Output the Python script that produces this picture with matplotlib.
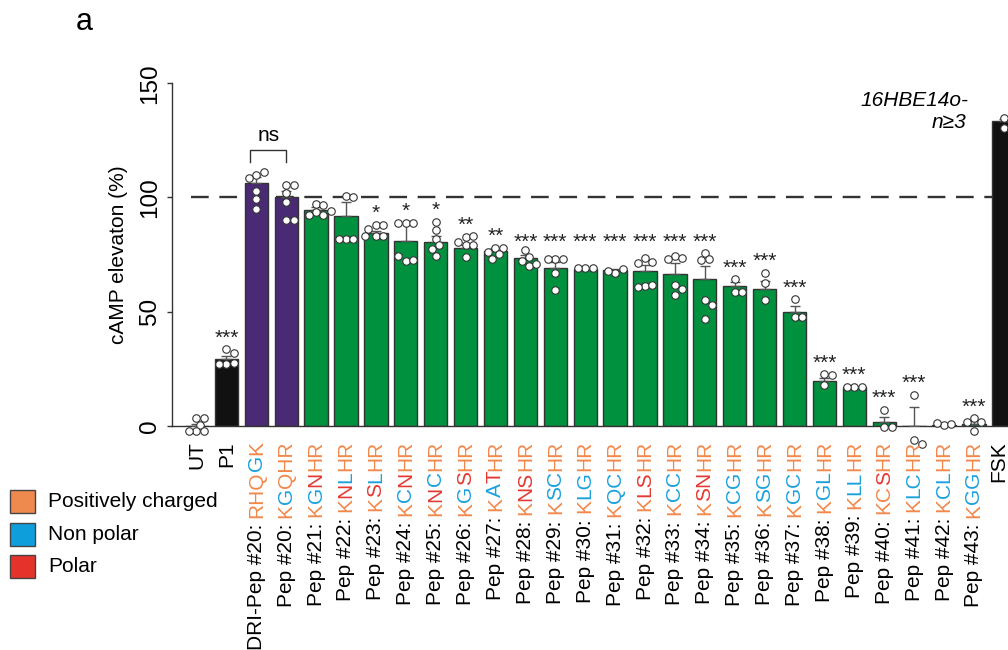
import numpy as np
import matplotlib
matplotlib.use("Agg")
import matplotlib.pyplot as plt
from matplotlib.patches import Rectangle
from matplotlib.font_manager import FontProperties

plt.rcParams['font.family'] = ['Liberation Sans', 'DejaVu Sans']

# ---------------- data ----------------
names = ["UT", "P1", "DRI-Pep #20", "Pep #20", "Pep #21", "Pep #22", "Pep #23",
         "Pep #24", "Pep #25", "Pep #26", "Pep #27", "Pep #28", "Pep #29",
         "Pep #30", "Pep #31", "Pep #32", "Pep #33", "Pep #34", "Pep #35",
         "Pep #36", "Pep #37", "Pep #38", "Pep #39", "Pep #40", "Pep #41",
         "Pep #42", "Pep #43", "FSK"]

sequences = ["", "", "RHQGK", "KGQHR", "KGNHR", "KNLHR", "KSLHR", "KCNHR",
             "KNCHR", "KGSHR", "KATHR", "KNSHR", "KSCHR", "KLGHR", "KQCHR",
             "KLSHR", "KCCHR", "KSNHR", "KCGHR", "KSGHR", "KGCHR", "KGLHR",
             "KLLHR", "KCSHR", "KLCHR", "KCLHR", "KGGHR", ""]

# residue class per letter: p = positively charged, n = non polar, o = polar
residue_classes = ["", "", "pppnp", "pnppp", "pnopp", "ponpp",
                   "ponpp", "pnopp", "ponpp", "pnopp", "pnopp", "poopp",
                   "pnnpp", "pnnpp", "pnnpp", "poopp", "pnnpp", "poopp",
                   "pnnpp", "pnnpp", "pnnpp", "pnnpp", "pnnpp", "ppopp",
                   "pnnpp", "pnnpp", "pnnpp", ""]

groups = ["ctrl", "ctrl", "dri", "dri"] + ["pep"] * 23 + ["ctrl"]

means = [0.0, 29.2, 106.2, 100.3, 94.5, 91.8, 84.3, 81.0, 80.6, 77.7, 76.7,
         73.3, 68.9, 68.5, 68.2, 67.8, 66.4, 64.4, 61.2, 59.8, 49.7, 19.6,
         16.8, 1.5, 0.0, 0.4, 0.8, 133.4]

sems = [0.9, 1.3, 2.6, 2.4, 1.2, 6.3, 1.2, 8.0, 2.5, 1.4, 1.0, 1.6, 2.6, 0.2,
        0.5, 2.4, 4.9, 5.6, 1.9, 3.5, 2.6, 1.5, 0.2, 2.5, 8.3, 0.3, 1.2, 0.8]

replicates = [
    [3.2, 3.2, 0.5, -2.3, -2.3, -2.3],
    [33.5, 32.0, 27.0, 27.3, 27.0],
    [110.0, 111.0, 108.5, 103.0, 99.5, 95.0],
    [105.5, 105.5, 102.0, 98.0, 90.0, 90.0],
    [97.0, 96.5, 93.5, 92.5, 92.5, 94.0],
    [100.5, 100.0, 82.0, 82.0, 82.0],
    [88.0, 88.0, 86.0, 83.0, 83.0, 83.0],
    [89.0, 89.0, 89.0, 72.0, 72.6, 74.3],
    [89.4, 85.7, 82.0, 79.2, 74.3, 77.5],
    [82.5, 83.0, 79.2, 79.0, 74.0, 80.5],
    [78.0, 78.0, 75.0, 73.0, 76.0],
    [77.0, 74.0, 72.0, 70.0, 71.0],
    [73.2, 73.2, 73.2, 66.7, 59.4],
    [68.9, 68.9, 68.9],
    [66.7, 68.5, 67.7],
    [73.3, 71.8, 71.4, 61.2, 61.6, 60.9],
    [74.3, 73.3, 72.9, 61.6, 59.7, 57.2],
    [75.8, 72.9, 72.5, 55.1, 52.7, 46.9],
    [64.1, 58.7, 58.7],
    [67.0, 62.6, 55.0],
    [55.4, 47.5, 47.5],
    [22.6, 22.2, 17.8],
    [17.1, 17.1, 17.1],
    [6.9, -0.4, -0.4],
    [13.5, -6.3, -8.0],
    [0.3, 0.6, 1.0],
    [3.2, 1.8, 1.8, -2.3],
    [134.6, 133.6, 130.3, 129.8],
]

significance = ["", "***", "", "", "", "", "*", "*", "*", "**", "**", "***",
                "***", "***", "***", "***", "***", "***", "***", "***", "***",
                "***", "***", "***", "***", "", "***", ""]

# stars printed on one common row
shared_star_row = ["Pep #28", "Pep #29", "Pep #30", "Pep #31", "Pep #32",
                   "Pep #33", "Pep #34"]

legend_labels = ["Positively charged", "Non polar", "Polar"]

# ---------------- styles ----------------
bar_colors = {"ctrl": "#111111", "dri": "#4a2a75", "pep": "#00913f"}
residue_colors = {"p": "#f2884a", "n": "#1ba1de", "o": "#e33a32"}
legend_fill = ["#ef8a4e", "#0d9edb", "#e5332c"]
FS = 15

W, H = 1008, 650
fig = plt.figure(figsize=(W / 100, H / 100), dpi=100)


def fpx(x, y):
    """figure fraction from pixel coordinates measured from the top-left"""
    return x / W, 1 - y / H


ax = fig.add_axes([172 / W, (H - 425.7) / H, (W - 172) / W, (425.7 - 83.3) / H])
x = np.arange(len(names))
ax.set_xlim(-0.819, 27.14)
ax.set_ylim(0, 150)

# reference line at 100 %
ax.plot([-0.2, 27.5], [100, 100], color="#333333", lw=1.7,
        dashes=(7.5, 4.5), zorder=1, clip_on=False)

ax.bar(x, means, width=0.78, color=[bar_colors[g] for g in groups],
       edgecolor="#333333", linewidth=1.0, zorder=2)

for xi, m, s in zip(x, means, sems):
    if s > 0:
        ax.errorbar([xi], [m], yerr=[[0], [s]], fmt="none", ecolor="#555555",
                    elinewidth=1.0, capsize=3.5, capthick=1.0, zorder=3)

# individual replicates, spread so that markers do not overlap
px_x = ax.transData.transform((1, 0))[0] - ax.transData.transform((0, 0))[0]
px_y = (ax.transData.transform((0, 1))[1] - ax.transData.transform((0, 0))[1])
diam = 7.4


def swarm(vals):
    placed = []
    offs = []
    steps = [0]
    for k in range(1, 12):
        steps += [k * 0.5 * diam, -k * 0.5 * diam]
    for v in vals:
        vy = v * px_y
        for dx in steps:
            if all((dx - ox) ** 2 + (vy - oy) ** 2 >= (0.97 * diam) ** 2
                   for ox, oy in placed):
                break
        placed.append((dx, vy))
        offs.append(dx / px_x)
    return offs


for xi, vals in zip(x, replicates):
    offs = swarm(vals)
    ax.plot(xi + np.array(offs), vals, "o", ms=5.4, mfc="white", mec="#333333",
            mew=0.8, zorder=4, clip_on=False)

# significance stars
tops = [max(max(v), m + s) for v, m, s in zip(replicates, means, sems)]
star_y = [t + 2.5 for t in tops]
row_idx = [names.index(n) for n in shared_star_row]
row_level = max(star_y[i] for i in row_idx) - 1.5
for i in row_idx:
    star_y[i] = row_level
for xi, lab, sy in zip(x, significance, star_y):
    if lab:
        ax.text(xi, sy, lab, ha="center", va="baseline", fontsize=FS,
                color="#222222", zorder=5)

# ns bracket
ax.plot([1.8, 1.8, 3.0, 3.0], [115.5, 120.8, 120.8, 115.5], color="#333333",
        lw=1.0, clip_on=False)
ax.text(2.4, 123.0, "ns", ha="center", va="bottom", fontsize=FS)

# axes styling
for side in ["top", "right"]:
    ax.spines[side].set_visible(False)
for side in ["left", "bottom"]:
    ax.spines[side].set_color("#333333")
    ax.spines[side].set_linewidth(1.0)
ax.set_xticks([])
ax.set_yticks([0, 50, 100, 150])
ax.tick_params(axis="y", length=3.6, width=1.0, color="#333333", pad=4,
               labelsize=17.5)
for lab in ax.get_yticklabels():
    lab.set_rotation(90)
    lab.set_va("center")

fig.text(*fpx(118, 255), "cAMP elevaton (%)", rotation=90, ha="center",
         va="center", fontsize=FS)

fig.text(*fpx(968, 100), "16HBE14o-", ha="right", va="center", fontsize=FS,
         style="italic")
fig.text(*fpx(966, 122), "n\u22653", ha="right", va="center", fontsize=FS,
         style="italic")

fig.text(*fpx(84, 22), "a", ha="center", va="center", fontsize=22)

# legend of residue classes
for k, (lab, col) in enumerate(zip(legend_labels, legend_fill)):
    yc = 501.5 + 32.5 * k
    x0, y0 = fpx(10, yc + 11.5)
    fig.add_artist(Rectangle((x0, y0), 25 / W, 23 / H, transform=fig.transFigure,
                             facecolor=col, edgecolor="#444444", lw=1.0))
    fig.text(*fpx(48, yc), lab, ha="left", va="center", fontsize=FS)

# rotated category labels with coloured residues
fig.canvas.draw()
renderer = fig.canvas.get_renderer()
fp = FontProperties(family="Liberation Sans", size=FS)


def tw(s):
    w, h, d = renderer.get_text_width_height_descent(s, fp, ismath=False)
    return w


base_px = ax.transData.transform((0, 0))[1]
label_top = base_px - 15.5
ref_w = tw("H")
for xi, name, seq, cls in zip(x, names, sequences, residue_classes):
    # keep the last column inside the canvas
    xpix = min(ax.transData.transform((xi, 0))[0], W - 9)
    if seq:
        full = f"{name}: {seq}"
        colors = ["black"] * (len(name) + 2) + [residue_colors[c] for c in cls]
    else:
        full = name
        colors = ["black"] * len(name)
    total = tw(full)
    y_start = label_top - total
    # merge consecutive characters of the same colour into pieces
    k = 0
    while k < len(full):
        j = k
        while j < len(full) and colors[j] == colors[k]:
            j += 1
        off = 0.0 if k == 0 else tw(full[:k] + "H") - ref_w
        fig.text(xpix / W, (y_start + off) / H, full[k:j], rotation=90,
                 ha="center", va="bottom", fontsize=FS, color=colors[k])
        k = j

fig.savefig("out.png", dpi=100)
